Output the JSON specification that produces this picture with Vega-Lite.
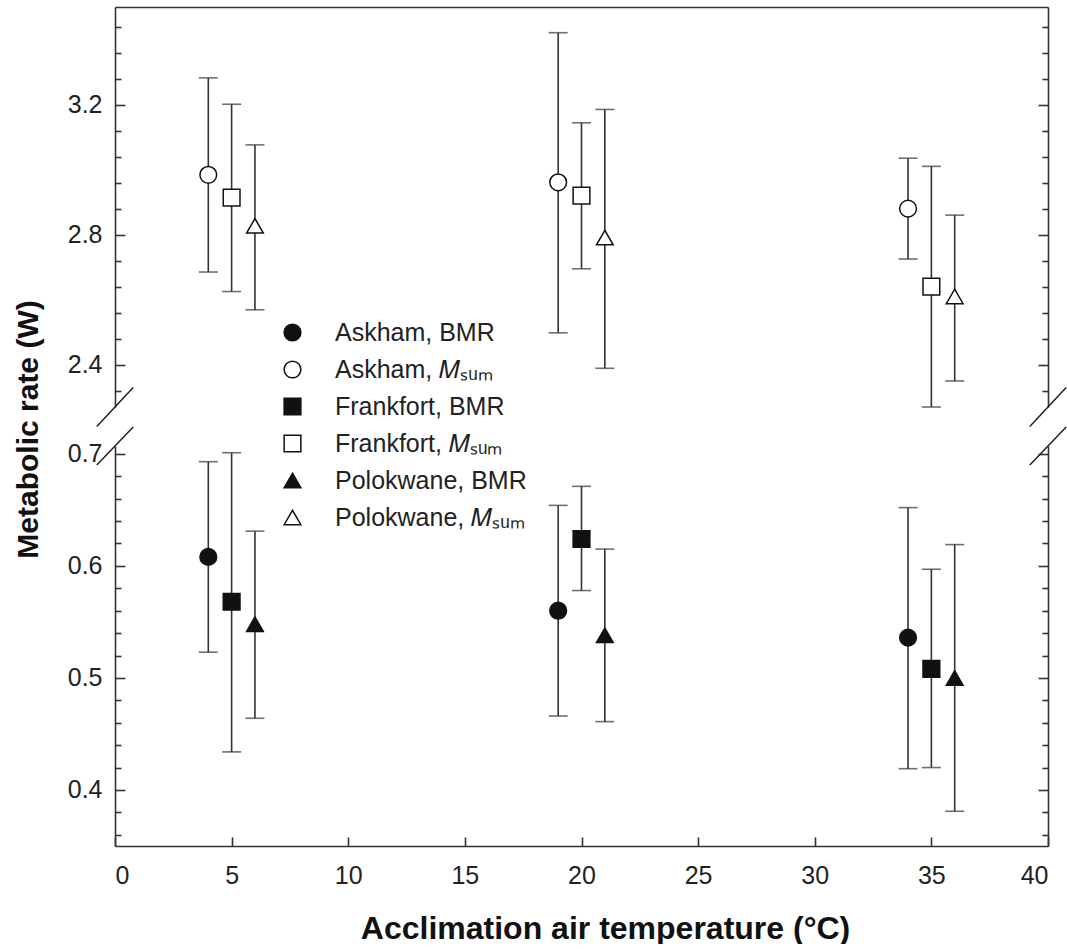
{
  "$schema": "https://vega.github.io/schema/vega-lite/v6.json",
  "autosize": {"type": "pad"},
  "padding": {"left": 13, "top": 7, "right": 0, "bottom": 0},
  "background": "white",
  "bounds": "flush",
  "spacing": 39,
  "config": {
    "font": "Liberation Sans",
    "view": {"stroke": null},
    "axis": {"grid": false, "domainColor": "#333", "domainWidth": 1.6, "tickColor": "#333", "tickWidth": 1.6, "labelFont": "Liberation Sans", "labelFontSize": 25, "labelColor": "#222", "titleColor": "#111", "titleFont": "Liberation Sans"}
  },
  "datasets": {
    "stats": [
      {"site": "Askham", "measure": "Msum", "series": "Askham, \ud835\udc40\u209b\u1d64\u2098", "temp": 4, "mean": 2.984, "lo": 2.685, "hi": 3.282},
      {"site": "Frankfort", "measure": "Msum", "series": "Frankfort, \ud835\udc40\u209b\u1d64\u2098", "temp": 5, "mean": 2.914, "lo": 2.625, "hi": 3.201},
      {"site": "Polokwane", "measure": "Msum", "series": "Polokwane, \ud835\udc40\u209b\u1d64\u2098", "temp": 6, "mean": 2.827, "lo": 2.569, "hi": 3.076},
      {"site": "Askham", "measure": "Msum", "series": "Askham, \ud835\udc40\u209b\u1d64\u2098", "temp": 19, "mean": 2.961, "lo": 2.498, "hi": 3.421},
      {"site": "Frankfort", "measure": "Msum", "series": "Frankfort, \ud835\udc40\u209b\u1d64\u2098", "temp": 20, "mean": 2.92, "lo": 2.695, "hi": 3.144},
      {"site": "Polokwane", "measure": "Msum", "series": "Polokwane, \ud835\udc40\u209b\u1d64\u2098", "temp": 21, "mean": 2.791, "lo": 2.389, "hi": 3.185},
      {"site": "Askham", "measure": "Msum", "series": "Askham, \ud835\udc40\u209b\u1d64\u2098", "temp": 34, "mean": 2.88, "lo": 2.725, "hi": 3.035},
      {"site": "Frankfort", "measure": "Msum", "series": "Frankfort, \ud835\udc40\u209b\u1d64\u2098", "temp": 35, "mean": 2.64, "lo": 2.27, "hi": 3.01},
      {"site": "Polokwane", "measure": "Msum", "series": "Polokwane, \ud835\udc40\u209b\u1d64\u2098", "temp": 36, "mean": 2.61, "lo": 2.35, "hi": 2.86},
      {"site": "Askham", "measure": "BMR", "series": "Askham, BMR", "temp": 4, "mean": 0.608, "lo": 0.523, "hi": 0.693},
      {"site": "Frankfort", "measure": "BMR", "series": "Frankfort, BMR", "temp": 5, "mean": 0.568, "lo": 0.434, "hi": 0.701},
      {"site": "Polokwane", "measure": "BMR", "series": "Polokwane, BMR", "temp": 6, "mean": 0.548, "lo": 0.464, "hi": 0.631},
      {"site": "Askham", "measure": "BMR", "series": "Askham, BMR", "temp": 19, "mean": 0.56, "lo": 0.466, "hi": 0.654},
      {"site": "Frankfort", "measure": "BMR", "series": "Frankfort, BMR", "temp": 20, "mean": 0.624, "lo": 0.578, "hi": 0.671},
      {"site": "Polokwane", "measure": "BMR", "series": "Polokwane, BMR", "temp": 21, "mean": 0.538, "lo": 0.461, "hi": 0.615},
      {"site": "Askham", "measure": "BMR", "series": "Askham, BMR", "temp": 34, "mean": 0.536, "lo": 0.419, "hi": 0.652},
      {"site": "Frankfort", "measure": "BMR", "series": "Frankfort, BMR", "temp": 35, "mean": 0.508, "lo": 0.42, "hi": 0.597},
      {"site": "Polokwane", "measure": "BMR", "series": "Polokwane, BMR", "temp": 36, "mean": 0.5, "lo": 0.381, "hi": 0.619}
    ],
    "breaksTop": [
      {"x1": -0.78, "x2": 0.78, "y1": 2.21, "y2": 2.33},
      {"x1": 39.22, "x2": 40.78, "y1": 2.21, "y2": 2.33}
    ],
    "breaksBottom": [
      {"x1": -0.78, "x2": 0.78, "y1": 0.69, "y2": 0.724},
      {"x1": 39.22, "x2": 40.78, "y1": 0.69, "y2": 0.724}
    ]
  },
  "resolve": {"scale": {"y": "independent", "shape": "independent", "fill": "independent", "size": "independent", "stroke": "independent"}},
  "vconcat": [
    {
      "width": 933,
      "height": 400,
      "resolve": {"axis": {"x": "independent", "y": "independent"}},
      "layer": [
        {
          "data": {"name": "stats"},
          "transform": [{"filter": "datum.measure === 'Msum'"}],
          "mark": {"type": "rule", "color": "#333", "strokeWidth": 1.6},
          "encoding": {
            "x": {"field": "temp", "type": "quantitative", "scale": {"domain": [0, 40], "nice": false, "zero": false}, "axis": {"orient": "top", "ticks": false, "labels": false, "title": null, "domain": true}},
            "y": {"field": "lo", "type": "quantitative", "scale": {"domain": [2.27, 3.5], "nice": false, "zero": false}, "axis": {"orient": "left", "values": [2.4, 2.8, 3.2], "format": ".1f", "tickSize": -10, "labelPadding": 23, "domain": true, "title": "Metabolic rate (W)", "titleFontSize": 30, "titleFontWeight": "bold", "titleX": -87, "titleY": 422, "titleBaseline": "middle", "titleAlign": "center", "titleAngle": -90}},
            "y2": {"field": "hi"}
          }
        },
        {
          "data": {"name": "stats"},
          "transform": [{"filter": "datum.measure === 'Msum'"}, {"fold": ["lo", "hi"], "as": ["bound", "value"]}],
          "mark": {"type": "tick", "orient": "horizontal", "size": 19, "thickness": 1.6, "color": "#333"},
          "encoding": {
            "x": {"field": "temp", "type": "quantitative", "scale": {"domain": [0, 40], "nice": false, "zero": false}, "axis": null},
            "y": {"field": "value", "type": "quantitative", "scale": {"domain": [2.27, 3.5], "nice": false, "zero": false}, "axis": {"orient": "left", "values": [2.32, 2.48, 2.56, 2.64, 2.72, 2.88, 2.96, 3.04, 3.12, 3.28, 3.36, 3.44], "tickSize": -6, "labels": false, "domain": false, "title": null}}
          }
        },
        {
          "data": {"name": "stats"},
          "transform": [{"filter": "datum.measure === 'Msum'"}],
          "mark": {"type": "point", "filled": true, "strokeWidth": 1.5, "opacity": 1},
          "encoding": {
            "x": {"field": "temp", "type": "quantitative", "scale": {"domain": [0, 40], "nice": false, "zero": false}, "axis": null},
            "y": {"field": "mean", "type": "quantitative", "scale": {"domain": [2.27, 3.5], "nice": false, "zero": false}, "axis": {"orient": "right", "values": [2.4, 2.8, 3.2], "tickSize": -10, "labels": false, "domain": true, "title": null}},
            "shape": {"field": "series", "type": "nominal", "scale": {"domain": ["Askham, BMR", "Askham, \ud835\udc40\u209b\u1d64\u2098", "Frankfort, BMR", "Frankfort, \ud835\udc40\u209b\u1d64\u2098", "Polokwane, BMR", "Polokwane, \ud835\udc40\u209b\u1d64\u2098"], "range": ["circle", "circle", "square", "square", "triangle-up", "triangle-up"]}, "legend": {"orient": "none", "legendX": 165, "legendY": 313, "title": null, "labelFontSize": 25, "labelFont": "Liberation Sans", "labelColor": "#222", "rowPadding": 11, "labelOffset": 30, "symbolStrokeWidth": 1.5, "labelLimit": 400}},
            "fill": {"field": "series", "type": "nominal", "scale": {"domain": ["Askham, BMR", "Askham, \ud835\udc40\u209b\u1d64\u2098", "Frankfort, BMR", "Frankfort, \ud835\udc40\u209b\u1d64\u2098", "Polokwane, BMR", "Polokwane, \ud835\udc40\u209b\u1d64\u2098"], "range": ["#111", "white", "#111", "white", "#111", "white"]}, "legend": {"orient": "none", "legendX": 165, "legendY": 313, "title": null, "labelFontSize": 25, "labelFont": "Liberation Sans", "labelColor": "#222", "rowPadding": 11, "labelOffset": 30, "symbolStrokeWidth": 1.5, "labelLimit": 400}},
            "stroke": {"field": "series", "type": "nominal", "scale": {"domain": ["Askham, BMR", "Askham, \ud835\udc40\u209b\u1d64\u2098", "Frankfort, BMR", "Frankfort, \ud835\udc40\u209b\u1d64\u2098", "Polokwane, BMR", "Polokwane, \ud835\udc40\u209b\u1d64\u2098"], "range": ["#111", "#111", "#111", "#111", "#111", "#111"]}, "legend": {"orient": "none", "legendX": 165, "legendY": 313, "title": null, "labelFontSize": 25, "labelFont": "Liberation Sans", "labelColor": "#222", "rowPadding": 11, "labelOffset": 30, "symbolStrokeWidth": 1.5, "labelLimit": 400}},
            "size": {"field": "series", "type": "nominal", "scale": {"domain": ["Askham, BMR", "Askham, \ud835\udc40\u209b\u1d64\u2098", "Frankfort, BMR", "Frankfort, \ud835\udc40\u209b\u1d64\u2098", "Polokwane, BMR", "Polokwane, \ud835\udc40\u209b\u1d64\u2098"], "range": [280, 280, 180, 180, 270, 270]}, "legend": {"orient": "none", "legendX": 165, "legendY": 313, "title": null, "labelFontSize": 25, "labelFont": "Liberation Sans", "labelColor": "#222", "rowPadding": 11, "labelOffset": 30, "symbolStrokeWidth": 1.5, "labelLimit": 400}}
          }
        },
        {
          "data": {"name": "breaksTop"},
          "mark": {"type": "rule", "color": "#222", "strokeWidth": 1.5},
          "encoding": {
            "x": {"field": "x1", "type": "quantitative", "scale": {"domain": [0, 40], "nice": false, "zero": false}, "axis": null},
            "x2": {"field": "x2"},
            "y": {"field": "y1", "type": "quantitative", "scale": {"domain": [2.27, 3.5], "nice": false, "zero": false}, "axis": {"orient": "right", "values": [2.32, 2.48, 2.56, 2.64, 2.72, 2.88, 2.96, 3.04, 3.12, 3.28, 3.36, 3.44], "tickSize": -6, "labels": false, "domain": false, "title": null}},
            "y2": {"field": "y2"}
          }
        }
      ]
    },
    {
      "width": 933,
      "height": 400,
      "resolve": {"axis": {"x": "independent", "y": "independent"}},
      "layer": [
        {
          "data": {"name": "stats"},
          "transform": [{"filter": "datum.measure === 'BMR'"}],
          "mark": {"type": "rule", "color": "#333", "strokeWidth": 1.6},
          "encoding": {
            "x": {"field": "temp", "type": "quantitative", "scale": {"domain": [0, 40], "nice": false, "zero": false}, "axis": {"orient": "bottom", "values": [0, 5, 10, 15, 20, 25, 30, 35, 40], "tickSize": -9, "labelPadding": 26, "domain": true, "title": "Acclimation air temperature (°C)", "titleFontSize": 32, "titleFontWeight": "bold", "titlePadding": 25, "titleX": 490, "titleAlign": "center"}},
            "y": {"field": "lo", "type": "quantitative", "scale": {"domain": [0.35, 0.707], "nice": false, "zero": false}, "axis": {"orient": "left", "values": [0.4, 0.5, 0.6, 0.7], "format": ".1f", "tickSize": -10, "labelPadding": 23, "domain": true, "title": null}},
            "y2": {"field": "hi"}
          }
        },
        {
          "data": {"name": "stats"},
          "transform": [{"filter": "datum.measure === 'BMR'"}, {"fold": ["lo", "hi"], "as": ["bound", "value"]}],
          "mark": {"type": "tick", "orient": "horizontal", "size": 19, "thickness": 1.6, "color": "#333"},
          "encoding": {
            "x": {"field": "temp", "type": "quantitative", "scale": {"domain": [0, 40], "nice": false, "zero": false}, "axis": null},
            "y": {"field": "value", "type": "quantitative", "scale": {"domain": [0.35, 0.707], "nice": false, "zero": false}, "axis": {"orient": "left", "values": [0.36, 0.38, 0.42, 0.44, 0.46, 0.48, 0.52, 0.54, 0.56, 0.58, 0.62, 0.64, 0.66, 0.68], "tickSize": -6, "labels": false, "domain": false, "title": null}}
          }
        },
        {
          "data": {"name": "stats"},
          "transform": [{"filter": "datum.measure === 'BMR'"}],
          "mark": {"type": "point", "filled": true, "stroke": "#111", "strokeWidth": 1.5, "opacity": 1},
          "encoding": {
            "x": {"field": "temp", "type": "quantitative", "scale": {"domain": [0, 40], "nice": false, "zero": false}, "axis": null},
            "y": {"field": "mean", "type": "quantitative", "scale": {"domain": [0.35, 0.707], "nice": false, "zero": false}, "axis": {"orient": "right", "values": [0.4, 0.5, 0.6, 0.7], "tickSize": -10, "labels": false, "domain": true, "title": null}},
            "shape": {"field": "series", "type": "nominal", "scale": {"domain": ["Askham, BMR", "Askham, \ud835\udc40\u209b\u1d64\u2098", "Frankfort, BMR", "Frankfort, \ud835\udc40\u209b\u1d64\u2098", "Polokwane, BMR", "Polokwane, \ud835\udc40\u209b\u1d64\u2098"], "range": ["circle", "circle", "square", "square", "triangle-up", "triangle-up"]}, "legend": null},
            "fill": {"field": "series", "type": "nominal", "scale": {"domain": ["Askham, BMR", "Askham, \ud835\udc40\u209b\u1d64\u2098", "Frankfort, BMR", "Frankfort, \ud835\udc40\u209b\u1d64\u2098", "Polokwane, BMR", "Polokwane, \ud835\udc40\u209b\u1d64\u2098"], "range": ["#111", "white", "#111", "white", "#111", "white"]}, "legend": null},
            "size": {"field": "series", "type": "nominal", "scale": {"domain": ["Askham, BMR", "Askham, \ud835\udc40\u209b\u1d64\u2098", "Frankfort, BMR", "Frankfort, \ud835\udc40\u209b\u1d64\u2098", "Polokwane, BMR", "Polokwane, \ud835\udc40\u209b\u1d64\u2098"], "range": [280, 280, 180, 180, 270, 270]}, "legend": null}
          }
        },
        {
          "data": {"name": "breaksBottom"},
          "mark": {"type": "rule", "color": "#222", "strokeWidth": 1.5},
          "encoding": {
            "x": {"field": "x1", "type": "quantitative", "scale": {"domain": [0, 40], "nice": false, "zero": false}, "axis": null},
            "x2": {"field": "x2"},
            "y": {"field": "y1", "type": "quantitative", "scale": {"domain": [0.35, 0.707], "nice": false, "zero": false}, "axis": {"orient": "right", "values": [0.36, 0.38, 0.42, 0.44, 0.46, 0.48, 0.52, 0.54, 0.56, 0.58, 0.62, 0.64, 0.66, 0.68], "tickSize": -6, "labels": false, "domain": false, "title": null}},
            "y2": {"field": "y2"}
          }
        }
      ]
    }
  ]
}
